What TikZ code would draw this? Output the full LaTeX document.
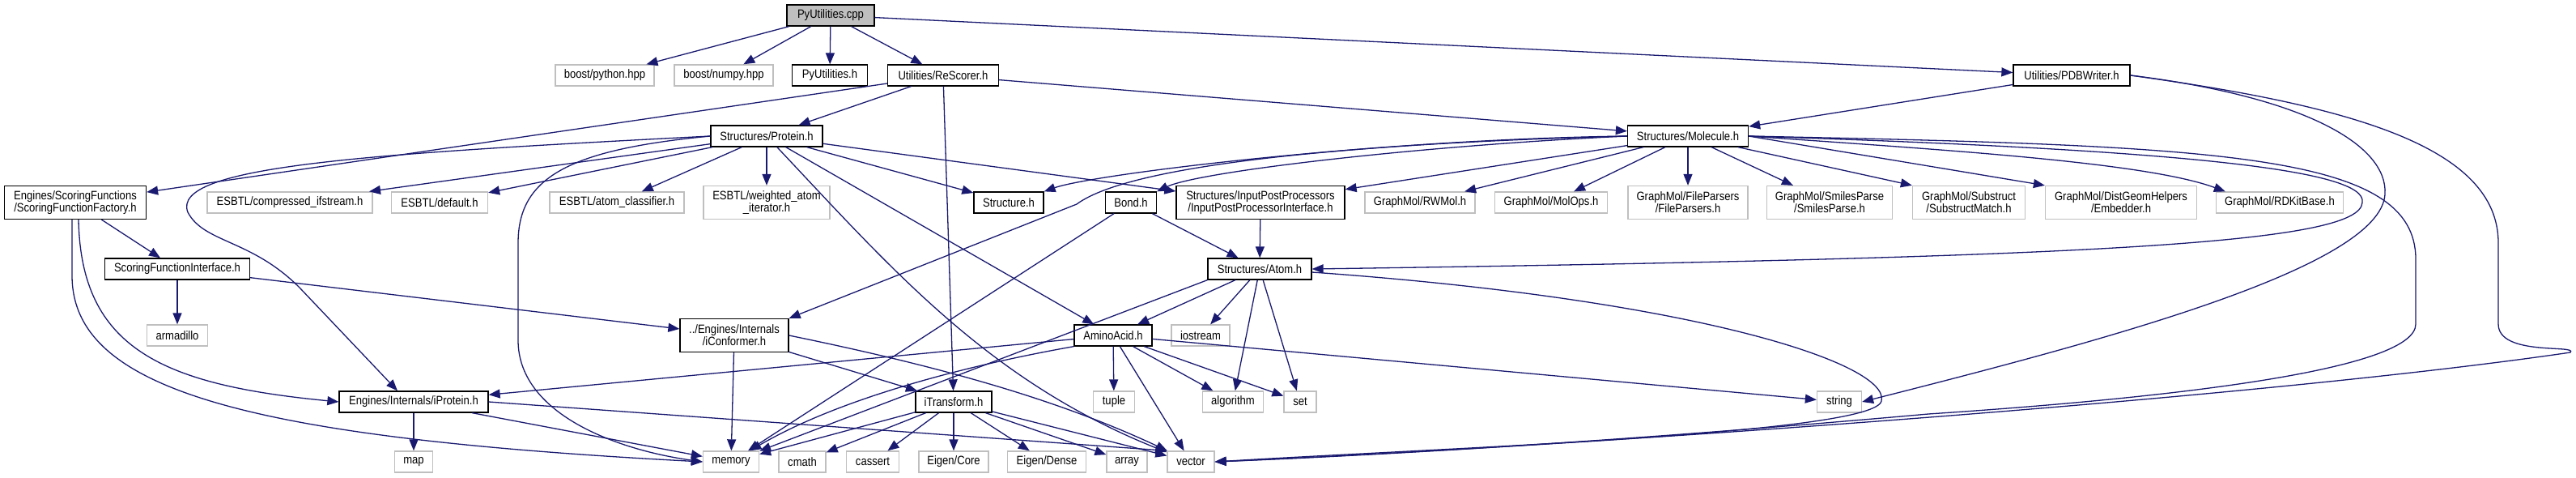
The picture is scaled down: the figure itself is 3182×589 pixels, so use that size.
\documentclass[tikz,border=0pt]{standalone}
\usepackage{fontspec}
\setmainfont{Liberation Sans}[FakeStretch=0.87]
\usetikzlibrary{arrows.meta}
\definecolor{edgeblue}{HTML}{191970}
\definecolor{boxgray}{HTML}{BFBFBF}
\newcommand{\gfont}{\fontsize{15}{15}\selectfont}

\begin{document}
\begin{tikzpicture}[x=1pt,y=-1pt,
	doc/.style={draw=black,fill=white,line width=1.3pt,inner sep=0pt,minimum height=26pt,minimum width=#1pt,align=center,font=\gfont},
	ext/.style={doc=#1,draw=boxgray},
	tall/.style={minimum height=41pt},
	inc/.style={draw=edgeblue,line width=1.3pt,-{Triangle[length=14pt,width=11pt]}}]
	\useasboundingbox (0,0) rectangle (3182,589);

	\node[doc=108,fill=boxgray] (cpp) at (1026,19) {PyUtilities.cpp};

	\node[ext=122] (python) at (747,93) {boost/python.hpp};
	\node[ext=122] (numpy) at (894,93) {boost/numpy.hpp};
	\node[doc=93] (pyh) at (1025,93) {PyUtilities.h};
	\node[doc=137] (rescorer) at (1165,93) {Utilities/ReScorer.h};
	\node[doc=144] (pdbw) at (2559,93) {Utilities/PDBWriter.h};

	\node[doc=138] (protein) at (947,168) {Structures/Protein.h};
	\node[doc=149] (molecule) at (2085,168) {Structures/Molecule.h};

	\node[doc=175,tall] (factory) at (93,250) {Engines/ScoringFunctions\\/ScoringFunctionFactory.h};
	\node[ext=204] (compr) at (358,250) {ESBTL/compressed\_ifstream.h};
	\node[ext=119] (default) at (543,250) {ESBTL/default.h};
	\node[ext=166] (classif) at (762,250) {ESBTL/atom\_classifier.h};
	\node[ext=156,tall] (weighted) at (947,250) {ESBTL/weighted\_atom\\\_iterator.h};
	\node[doc=86] (structure) at (1246,250) {Structure.h};
	\node[doc=63] (bond) at (1397,250) {Bond.h};
	\node[doc=208,tall] (ipp) at (1557,250) {Structures/InputPostProcessors\\/InputPostProcessorInterface.h};
	\node[ext=136] (rwmol) at (1754,250) {GraphMol/RWMol.h};
	\node[ext=139] (molops) at (1916,250) {GraphMol/MolOps.h};
	\node[ext=148,tall] (fileparsers) at (2085,250) {GraphMol/FileParsers\\/FileParsers.h};
	\node[ext=155,tall] (smiles) at (2260,250) {GraphMol/SmilesParse\\/SmilesParse.h};
	\node[ext=139,tall] (substruct) at (2432,250) {GraphMol/Substruct\\/SubstructMatch.h};
	\node[ext=187,tall] (embedder) at (2620,250) {GraphMol/DistGeomHelpers\\/Embedder.h};
	\node[ext=157] (rdkitbase) at (2816,250) {GraphMol/RDKitBase.h};

	\node[doc=179] (sfi) at (219,332) {ScoringFunctionInterface.h};
	\node[doc=128] (atom) at (1556,332) {Structures/Atom.h};

	\node[ext=75] (armadillo) at (219,414) {armadillo};
	\node[doc=134,tall] (iconf) at (907,414) {../Engines/Internals\\/iConformer.h};
	\node[doc=96] (amino) at (1375,414) {AminoAcid.h};
	\node[ext=72] (iostream) at (1483,414) {iostream};

	\node[doc=184] (iprotein) at (511,496) {Engines/Internals/iProtein.h};
	\node[doc=94] (itransform) at (1178,496) {iTransform.h};
	\node[ext=51] (tuple) at (1376,496) {tuple};
	\node[ext=75] (algorithm) at (1523,496) {algorithm};
	\node[ext=40] (set) at (1606,496) {set};
	\node[ext=55] (string) at (2272,496) {string};

	\node[ext=47] (map) at (511,570) {map};
	\node[ext=69] (memory) at (903,570) {memory};
	\node[ext=58] (cmath) at (991,570) {cmath};
	\node[ext=65] (cassert) at (1078,570) {cassert};
	\node[ext=86] (core) at (1178,570) {Eigen/Core};
	\node[ext=97] (dense) at (1293,570) {Eigen/Dense};
	\node[ext=50] (array) at (1392,570) {array};
	\node[ext=58] (vector) at (1471,570) {vector};

	\draw[inc] (cpp) -- (python);
	\draw[inc] (cpp) -- (numpy);
	\draw[inc] (cpp) -- (pyh);
	\draw[inc] (cpp) -- (rescorer);
	\draw[inc] (cpp) -- (pdbw);

	\draw[inc] (rescorer) -- (factory);
	\draw[inc] (rescorer) -- (protein);
	\draw[inc] (rescorer) -- (itransform);
	\draw[inc] (rescorer) -- (molecule);

	\draw[inc] (pdbw) -- (molecule);
	\draw[inc] (pdbw.east) .. controls (2850,120) and (2950,180) .. (2946,240) .. controls (2940,330) and (2600,420) .. (string.east);
	\draw[inc] (pdbw.east) .. controls (2900,130) and (3086,180) .. (3086,300) -- (3086,400) .. controls (3086,440) and (3185,425) .. (3175,435) .. controls (2800,490) and (2000,548) .. (vector.east);

	\draw[inc] (molecule.west) .. controls (1700,172) and (1350,215) .. (structure.north east);
	\draw[inc] (molecule.west) .. controls (1750,180) and (1480,212) .. (bond.north east);
	\draw[inc] (molecule.west) .. controls (1700,176) and (1400,200) .. (1330,252) -- (iconf.north east);
	\draw[inc] (molecule) -- (ipp);
	\draw[inc] (molecule) -- (rwmol);
	\draw[inc] (molecule) -- (molops);
	\draw[inc] (molecule) -- (fileparsers);
	\draw[inc] (molecule) -- (smiles);
	\draw[inc] (molecule) -- (substruct.north west);
	\draw[inc] (molecule.east) -- (embedder.north west);
	\draw[inc] (molecule.east) .. controls (2400,185) and (2650,200) .. ([xshift=12pt]rdkitbase.north west);
	\draw[inc] (molecule.east) .. controls (2700,185) and (2925,210) .. (2918,250) .. controls (2915,300) and (2600,318) .. (atom.east);
	\draw[inc] (molecule.east) .. controls (2750,180) and (2984,190) .. (2984,320) -- (2984,400) .. controls (2984,455) and (2700,490) .. (2382,511) .. controls (2000,545) and (1700,562) .. (vector.east);

	\draw[inc] (protein) -- (compr);
	\draw[inc] (protein) -- (default);
	\draw[inc] (protein) -- (classif);
	\draw[inc] (protein) -- (weighted);
	\draw[inc] (protein) -- (structure);
	\draw[inc] (protein) -- (ipp);
	\draw[inc] (protein) -- (amino);
	\draw[inc] (protein) .. controls (1100,330) and (1220,470) .. (vector);
	\draw[inc] (protein.west) .. controls (450,190) and (210,205) .. (232,262) .. controls (252,300) and (310,295) .. (370,355) -- ([xshift=-20pt]iprotein.north);
	\draw[inc] (protein.west) .. controls (700,185) and (640,220) .. (640,300) -- (640,420) .. controls (640,510) and (760,555) .. (memory.west);

	\draw[inc] (factory) -- (sfi);
	\draw[inc] ([xshift=4pt]factory.south) .. controls (100,430) and (200,475) .. (iprotein.west);
	\draw[inc] ([xshift=-4pt]factory.south) -- (89,340) .. controls (89,480) and (300,540) .. (memory.west);

	\draw[inc] (sfi) -- (armadillo);
	\draw[inc] (sfi) -- (iconf);

	\draw[inc] (iprotein) -- (map);
	\draw[inc] (iprotein) -- (memory);
	\draw[inc] (iprotein.east) -- (vector.north west);

	\draw[inc] (iconf) -- (memory);
	\draw[inc] (iconf) -- (itransform);
	\draw[inc] (iconf.east) .. controls (1150,450) and (1300,490) .. (vector);

	\draw[inc] (amino) -- (iprotein);
	\draw[inc] (amino.south west) .. controls (1200,450) and (1040,490) .. (memory);
	\draw[inc] (amino) -- (tuple);
	\draw[inc] (amino) -- (vector);
	\draw[inc] (amino) -- (algorithm);
	\draw[inc] (amino) -- (set);
	\draw[inc] (amino) -- (string);

	\draw[inc] (atom) -- (amino);
	\draw[inc] (atom) -- (iostream);
	\draw[inc] (atom) -- (algorithm);
	\draw[inc] (atom) -- (set);
	\draw[inc] (atom.south west) -- (memory);
	\draw[inc] ([yshift=-4pt]atom.east) .. controls (2100,370) and (2335,450) .. (2324,495) .. controls (2315,535) and (1800,552) .. (vector.east);

	\draw[inc] (bond) -- (memory);
	\draw[inc] (bond) -- (atom);
	\draw[inc] (ipp) -- (atom);

	\draw[inc] (itransform) -- (memory);
	\draw[inc] (itransform) -- (cmath);
	\draw[inc] (itransform) -- (cassert);
	\draw[inc] (itransform) -- (core);
	\draw[inc] (itransform) -- (dense);
	\draw[inc] (itransform) -- (array);
	\draw[inc] (itransform) -- (vector);
\end{tikzpicture}
\end{document}
